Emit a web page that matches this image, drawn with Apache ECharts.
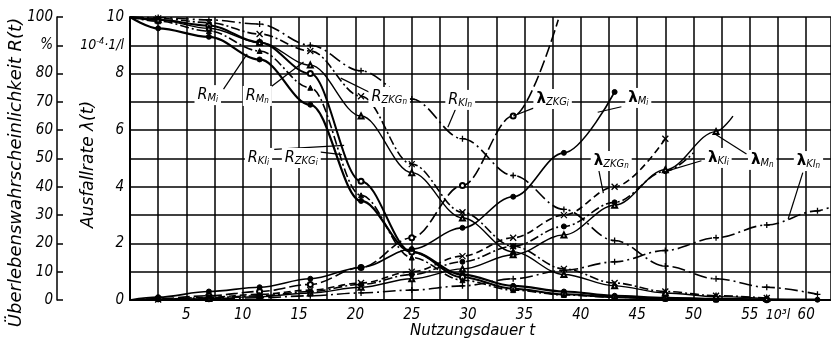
<!DOCTYPE html>
<html>
<head>
<meta charset="utf-8">
<script src="https://cdn.jsdelivr.net/npm/echarts@6/dist/echarts.min.js"></script>
<style>
  html, body { margin: 0; padding: 0; background: #fff; }
  #chart { width: 831px; height: 348px; }
</style>
</head>
<body>
<div id="chart"></div>
<script>
const FONT = '"Liberation Sans Narrow", "DejaVu Sans Condensed", "Liberation Sans", sans-serif';
const NAME_FONT = '"DejaVu Sans", sans-serif';

const tMax = 62.2;
// Nutzungsdauer, an der gemessen wurde (Marker)
const measured = [2.5, 7, 11.5, 16, 20.5, 25, 29.5, 34, 38.5, 43, 47.5, 52, 56.5, 61];

// Überlebenswahrscheinlichkeit R(t) in %
const rMi = [[0, 100], [2.5, 96], [7, 93], [11.5, 85], [16, 69], [20.5, 35], [25, 17], [29.5, 9], [34, 5], [38.5, 3], [43, 1.5], [47.5, 0.8], [52, 0.4], [56.5, 0.2], [61, 0.1]];
const rKIi = [[0, 100], [2.5, 99], [7, 97], [11.5, 91], [16, 80], [20.5, 42], [25, 17], [29.5, 8], [34, 4], [38.5, 2], [43, 1], [47.5, 0.5], [52, 0.3], [56.5, 0.1]];
const rZKGi = [[0, 100], [2.5, 98.5], [7, 95], [11.5, 88], [16, 75], [20.5, 37], [25, 15], [29.5, 7], [34, 3.5], [38.5, 1.8], [43, 1], [47.5, 0.5], [52, 0.2]];
const rMn = [[0, 100], [2.5, 99], [7, 96], [11.5, 91], [16, 83], [20.5, 65], [25, 45], [29.5, 29], [34, 17], [38.5, 9], [43, 5], [47.5, 2.5], [52, 1.2], [56.5, 0.5]];
const rZKGn = [[0, 100], [2.5, 99.5], [7, 98], [11.5, 94], [16, 88], [20.5, 72], [25, 48], [29.5, 31], [34, 19], [38.5, 11], [43, 6], [47.5, 3], [52, 1.5], [56.5, 0.7]];
const rKIn = [[0, 100], [2.5, 99.8], [7, 99], [11.5, 97.5], [16, 90], [20.5, 81], [25, 71], [29.5, 57], [34, 44], [38.5, 32], [43, 21], [47.5, 12], [52, 7.5], [56.5, 4.5], [61, 2]];

// Ausfallrate lambda(t) in 10^-4 1/l
const lZKGi = [[0, 0], [2.5, 0.05], [7, 0.15], [11.5, 0.3], [16, 0.55], [20.5, 1.15], [25, 2.2], [29.5, 4.05], [34, 6.5], [38, 9.9]];
const lMi = [[0, 0], [2.5, 0.1], [7, 0.3], [11.5, 0.45], [16, 0.75], [20.5, 1.15], [25, 1.8], [29.5, 2.55], [34, 3.65], [38.5, 5.2], [43, 7.35]];
const lZKGn = [[0, 0], [2.5, 0.02], [7, 0.1], [11.5, 0.2], [16, 0.35], [20.5, 0.6], [25, 1.0], [29.5, 1.55], [34, 2.2], [38.5, 3.0], [43, 4.0], [47.5, 5.7]];
const lKIi = [[0, 0], [2.5, 0.02], [7, 0.08], [11.5, 0.15], [16, 0.3], [20.5, 0.55], [25, 0.9], [29.5, 1.35], [34, 1.9], [38.5, 2.6], [43, 3.45], [47.5, 4.55], [50, 5.2]];
const lMn = [[0, 0], [7, 0.05], [11.5, 0.12], [16, 0.25], [20.5, 0.45], [25, 0.75], [29.5, 1.1], [34, 1.6], [38.5, 2.3], [43, 3.35], [47.5, 4.6], [52, 5.95], [53.5, 6.5]];
const lKIn = [[0, 0], [7, 0.03], [11.5, 0.08], [16, 0.15], [20.5, 0.25], [25, 0.35], [29.5, 0.5], [34, 0.75], [38.5, 1.05], [43, 1.35], [47.5, 1.75], [52, 2.2], [56.5, 2.65], [61, 3.15], [62.2, 3.3]];

const symX = 'path://M0,0L10,10M10,0L0,10';
const symPlus = 'path://M5,0L5,10M0,5L10,5';
const dashDot = [9, 3, 2, 3];
const longDashDot = [13, 4, 2, 4];

const curves = [
  { name: 'R_Mi', data: rMi, axis: 0, line: 'solid', width: 2.2, symbol: 'circle' },
  { name: 'R_KIi', data: rKIi, axis: 0, line: 'solid', width: 2, symbol: 'emptyCircle' },
  { name: 'R_ZKGi', data: rZKGi, axis: 0, line: dashDot, width: 1.6, symbol: 'triangle' },
  { name: 'R_Mn', data: rMn, axis: 0, line: 'solid', width: 1.4, symbol: 'emptyTriangle' },
  { name: 'R_ZKGn', data: rZKGn, axis: 0, line: dashDot, width: 1.6, symbol: symX },
  { name: 'R_KIn', data: rKIn, axis: 0, line: longDashDot, width: 1.6, symbol: symPlus },
  { name: 'l_ZKGi', data: lZKGi, axis: 1, line: [12, 4], width: 1.6, symbol: 'emptyCircle' },
  { name: 'l_Mi', data: lMi, axis: 1, line: 'solid', width: 1.6, symbol: 'circle' },
  { name: 'l_ZKGn', data: lZKGn, axis: 1, line: [7, 4], width: 1.6, symbol: symX },
  { name: 'l_KIi', data: lKIi, axis: 1, line: dashDot, width: 1.6, symbol: 'circle' },
  { name: 'l_Mn', data: lMn, axis: 1, line: 'solid', width: 1.4, symbol: 'emptyTriangle' },
  { name: 'l_KIn', data: lKIn, axis: 1, line: longDashDot, width: 1.6, symbol: symPlus }
];

// Beschriftungen: Textposition (t, R%), Start der Hinweislinie (t, R%), Ziel auf Kurve
const notes = [
  { text: '{m|R}{s|M}{ss|i}', at: [6.9, 72.4], from: [8.3, 74.5], to: ['R_Mi', 10.4] },
  { text: '{m|R}{s|M}{ss|n}', at: [11.3, 72.1], from: [12.4, 75.0], to: ['R_Mn', 15.4] },
  { text: '{m|R}{s|ZKG}{ss|n}', at: [23.0, 71.7], from: [21.2, 73.5], to: ['R_ZKGn', 18.7] },
  { text: '{m|R}{s|Kl}{ss|n}', at: [29.3, 70.7], from: [28.9, 67.6], to: ['R_KIn', 28.2] },
  { text: '{l|λ}{s|ZKG}{ss|i}', at: [37.5, 71], from: [35.8, 67.8], to: ['l_ZKGi', 34] },
  { text: '{l|λ}{s|M}{ss|i}', at: [45.1, 71.4], from: [43.6, 68.3], to: ['l_Mi', 41.5] },
  { text: '{m|R}{s|Kl}{ss|i}', at: [11.4, 50.2], from: [12.8, 53.2], to: ['R_KIi', 19.0] },
  { text: '{m|R}{s|ZKG}{ss|i}', at: [15.2, 50.2], from: [16.2, 52.6], to: ['R_ZKGi', 18.8] },
  { text: '{l|λ}{s|ZKG}{ss|n}', at: [42.7, 49.1], from: [41.6, 45.8], to: ['l_ZKGn', 42.0] },
  { text: '{l|λ}{s|Kl}{ss|i}', at: [52.2, 50.2], from: [50.7, 49.2], to: ['l_KIi', 47.4] },
  { text: '{l|λ}{s|M}{ss|n}', at: [56.1, 49.5], from: [54.7, 51.6], to: ['l_Mn', 51.8] },
  { text: '{l|λ}{s|Kl}{ss|n}', at: [60.2, 49.1], from: [59.7, 45.0], to: ['l_KIn', 58.4] }
];

function isPath(sym) {
  return sym.indexOf('path://') === 0;
}

function buildSeries(c) {
  return {
    name: c.name,
    type: 'line',
    yAxisIndex: c.axis,
    smooth: 0.35,
    smoothMonotone: 'x',
    symbol: c.symbol,
    symbolSize: isPath(c.symbol) ? 6 : 5,
    showSymbol: true,
    silent: true,
    lineStyle: { color: '#000', width: c.width, type: c.line },
    itemStyle: { color: '#000', borderColor: '#000', borderWidth: isPath(c.symbol) ? 1.3 : 1 },
    data: c.data.map(([t, v]) => measured.indexOf(t) >= 0 ? [t, v] : { value: [t, v], symbol: 'none' }),
    z: 3
  };
}

function valueAt(data, t) {
  for (let i = 1; i < data.length; i++) {
    if (data[i][0] >= t) {
      const [t0, v0] = data[i - 1];
      const [t1, v1] = data[i];
      return v0 + (v1 - v0) * (t - t0) / (t1 - t0);
    }
  }
  return data[data.length - 1][1];
}

const chart = echarts.init(document.getElementById('chart'), null, { renderer: 'canvas' });

const labelStyle = { color: '#000', fontFamily: FONT, fontStyle: 'italic', fontSize: 15 };
const nameStyle = { color: '#000', fontFamily: NAME_FONT, fontStyle: 'italic' };

chart.setOption({
  animation: false,
  backgroundColor: '#fff',
  grid: { left: 130, right: 0, top: 17, bottom: 48, outerBoundsMode: 'none', containLabel: false },
  xAxis: {
    type: 'value',
    min: 0,
    max: tMax,
    interval: 2.5,
    axisLine: { lineStyle: { color: '#000', width: 2 } },
    axisTick: { show: false },
    axisLabel: Object.assign({}, labelStyle, {
      margin: 8,
      formatter: (v) => {
        if (Math.abs(v - 57.5) < 0.01) return '{n|10³l}';
        if (v > 0 && Math.abs(v / 5 - Math.round(v / 5)) < 0.001) return String(Math.round(v));
        return '';
      },
      rich: { n: { color: '#000', fontFamily: FONT, fontSize: 14 } }
    }),
    splitLine: { lineStyle: { color: '#000', width: 1.5 } },
    name: 'Nutzungsdauer t',
    nameLocation: 'middle',
    nameGap: 24,
    nameMoveOverlap: false,
    nameTextStyle: Object.assign({}, nameStyle, { fontSize: 15, padding: [0, 16, 0, 0] })
  },
  yAxis: [
    {
      type: 'value',
      position: 'left',
      offset: 73,
      min: 0,
      max: 100,
      interval: 10,
      axisLine: { show: true, onZero: false, lineStyle: { color: '#000', width: 1.5 } },
      axisTick: { show: true, inside: true, length: 6, lineStyle: { color: '#000', width: 1.5 } },
      axisLabel: Object.assign({}, labelStyle, {
        margin: 4,
        formatter: (v) => (v === 90 ? '%' : String(v))
      }),
      splitLine: { show: true, lineStyle: { color: '#000', width: 1.5 } },
      name: 'Überlebenswahrscheinlichkeit R(t)',
      nameLocation: 'middle',
      nameGap: 32,
      nameMoveOverlap: false,
      nameTextStyle: Object.assign({}, nameStyle, { fontSize: 18, padding: [0, 28, 0, 0] })
    },
    {
      type: 'value',
      position: 'left',
      offset: 0,
      min: 0,
      max: 10,
      interval: 1,
      axisLine: { show: true, onZero: false, lineStyle: { color: '#000', width: 2 } },
      axisTick: { show: false },
      axisLabel: Object.assign({}, labelStyle, {
        margin: 6,
        formatter: (v) => {
          if (v === 9) return '{u|10}{sup|-4}{u|·1/l}';
          return v % 2 === 0 ? String(v) : '';
        },
        rich: {
          u: { color: '#000', fontFamily: FONT, fontSize: 14, lineHeight: 16 },
          sup: { color: '#000', fontFamily: FONT, fontSize: 9, lineHeight: 8, verticalAlign: 'top' }
        }
      }),
      splitLine: { show: false },
      name: 'Ausfallrate λ(t)',
      nameLocation: 'middle',
      nameGap: 33,
      nameMoveOverlap: false,
      nameTextStyle: Object.assign({}, nameStyle, { fontSize: 17, padding: [0, 12, 0, 0] })
    }
  ],
  series: curves.map(buildSeries)
});

// Beschriftungen der Kurven mit Hinweislinien
const graphic = [];
const rich = {
  m: { fontFamily: FONT, fontStyle: 'italic', fontSize: 16, fill: '#000', lineHeight: 18, verticalAlign: 'middle' },
  l: { fontFamily: NAME_FONT, fontWeight: 'bold', fontSize: 15, fill: '#000', lineHeight: 18, verticalAlign: 'middle' },
  s: { fontFamily: FONT, fontStyle: 'italic', fontSize: 11, fill: '#000', lineHeight: 11, verticalAlign: 'bottom' },
  ss: { fontFamily: FONT, fontStyle: 'italic', fontSize: 8, fill: '#000', lineHeight: 6, verticalAlign: 'bottom' }
};
notes.forEach((n) => {
  const c = curves.find((k) => k.name === n.to[0]);
  const target = chart.convertToPixel({ xAxisIndex: 0, yAxisIndex: c.axis }, [n.to[1], valueAt(c.data, n.to[1])]);
  const start = chart.convertToPixel({ xAxisIndex: 0, yAxisIndex: 0 }, n.from);
  const pos = chart.convertToPixel({ xAxisIndex: 0, yAxisIndex: 0 }, n.at);
  graphic.push({
    type: 'line',
    silent: true,
    z: 10,
    shape: { x1: start[0], y1: start[1], x2: target[0], y2: target[1] },
    style: { stroke: '#000', lineWidth: 1.2 }
  });
  graphic.push({
    type: 'text',
    silent: true,
    z: 11,
    x: pos[0],
    y: pos[1],
    style: {
      text: n.text,
      rich: rich,
      align: 'center',
      verticalAlign: 'middle',
      backgroundColor: '#fff',
      padding: [1, 3, 1, 3]
    }
  });
});
chart.setOption({ graphic: graphic });
</script>
</body>
</html>
